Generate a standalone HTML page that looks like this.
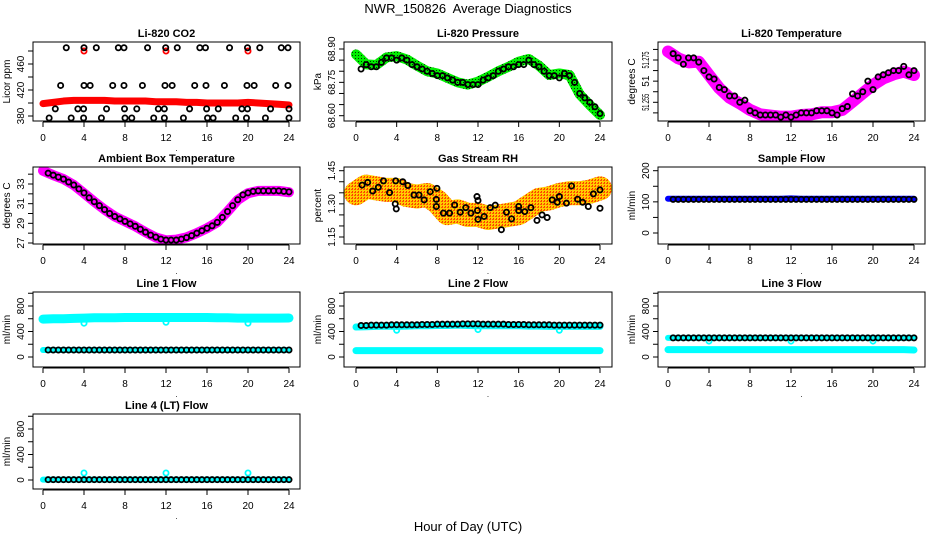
<!DOCTYPE html>
<html><head><meta charset="utf-8"><style>
html,body{margin:0;padding:0;background:#fff;}
svg{display:block;font-family:"Liberation Sans",Arial,sans-serif;}
</style></head><body>
<svg id="chart" width="936" height="540" viewBox="0 0 936 540" xmlns="http://www.w3.org/2000/svg">
<defs>
<pattern id="greenPat" width="3" height="3" patternUnits="userSpaceOnUse"><rect width="3" height="3" fill="#00ee00"/><rect x="1" y="1" width="1" height="1" fill="#003300"/></pattern>
<pattern id="rhPat" width="3" height="3" patternUnits="userSpaceOnUse"><rect width="3" height="3" fill="#ffcc00"/><rect x="0" y="0" width="2" height="1" fill="#ff5500"/><rect x="1" y="2" width="1" height="1" fill="#ff3300"/></pattern>
</defs>
<text x="468" y="13" font-size="13" text-anchor="middle" style="white-space:pre">NWR_150826  Average Diagnostics</text>
<text x="468" y="531" font-size="13" text-anchor="middle">Hour of Day (UTC)</text>
</svg>
<script>
// ---- shared categories ----
const hoursBand = [0,1,2,3,4,5,6,7,8,9,10,11,12,13,14,15,16,17,18,19,20,21,22,23,24];
const hoursHalf = [0.5,1,1.5,2,2.5,3,3.5,4,4.5,5,5.5,6,6.5,7,7.5,8,8.5,9,9.5,10,10.5,11,11.5,12,12.5,13,13.5,14,14.5,15,15.5,16,16.5,17,17.5,18,18.5,19,19.5,20,20.5,21,21.5,22,22.5,23,23.5,24];
const xTicks = [0,4,8,12,16,20,24];

// ---- CO2 ----
const co2Band = [399,401,403,404,404,404,404,403,403,403,403,402,402,402,401,401,400,400,400,400,401,400,399,398,397];
const co2BlackHours = [2.27,4.0,5.2,7.35,7.9,10.2,11.97,13.1,15.3,15.85,18.2,19.95,21.15,23.25,23.9, 1.72,4.0,4.6,6.8,7.9,9.7,11.9,12.6,14.8,15.9,17.7,19.9,20.6,22.7,23.9, 1.2,3.4,3.96,6.2,7.95,9.15,11.25,11.84,14.3,15.96,17.1,19.4,19.95,22.2,24, 0.6,2.75,3.96,5.7,8.0,8.66,10.8,11.84,13.7,16.05,16.6,18.8,19.85,21.7,24];
const co2BlackVals = [485,485,485,485,485,485,485,485,485,485,485,485,485,485,485, 427,427,427,427,427,427,427,427,427,427,427,427,427,427,427, 391,391,391,391,391,391,391,391,391,391,391,391,391,391,391, 377,377,377,377,377,377,377,377,377,377,377,377,377,377,377];
const co2RedHours = [4,12,20];
const co2RedVals = [480,480,480];

// ---- Pressure ----
const presBand = [68.876,68.831,68.828,68.862,68.868,68.853,68.825,68.80,68.79,68.77,68.75,68.74,68.753,68.775,68.80,68.82,68.843,68.855,68.825,68.783,68.79,68.783,68.696,68.648,68.603];
const presBlack = [68.81,68.83,68.82,68.82,68.84,68.86,68.86,68.85,68.86,68.85,68.83,68.82,68.81,68.80,68.79,68.78,68.78,68.77,68.76,68.75,68.75,68.74,68.74,68.74,68.76,68.77,68.78,68.80,68.81,68.82,68.82,68.83,68.83,68.85,68.83,68.82,68.80,68.78,68.78,68.77,68.79,68.78,68.75,68.70,68.68,68.66,68.64,68.61];

// ---- Li-820 Temperature ----
const tempBand = [51.279,51.2758,51.2739,51.2742,51.2679,51.2617,51.2572,51.2545,51.2514,51.2493,51.2487,51.2482,51.2482,51.249,51.2493,51.2503,51.2503,51.2514,51.2553,51.2593,51.2632,51.2663,51.2682,51.2695,51.2679];
const tempBlack = [51.278,51.276,51.273,51.276,51.276,51.274,51.27,51.267,51.266,51.262,51.261,51.258,51.258,51.255,51.256,51.251,51.250,51.249,51.249,51.249,51.249,51.248,51.249,51.248,51.249,51.250,51.250,51.250,51.251,51.251,51.251,51.250,51.249,51.252,51.253,51.259,51.258,51.260,51.265,51.261,51.267,51.268,51.269,51.27,51.27,51.272,51.268,51.27];

// ---- Ambient ----
const ambBand = [34.35,33.9,33.5,32.9,32.06,31.2,30.4,29.7,29.2,28.7,28.1,27.57,27.27,27.34,27.57,28.0,28.5,29.1,30.2,31.38,32.06,32.3,32.3,32.3,32.16];
const ambBlack = [34.1,33.9,33.7,33.5,33.2,32.9,32.5,32.1,31.6,31.2,30.8,30.4,30.0,29.7,29.45,29.2,28.95,28.7,28.4,28.1,27.8,27.6,27.4,27.3,27.3,27.3,27.4,27.55,27.75,28.0,28.25,28.5,28.75,29.1,29.6,30.2,30.8,31.4,31.9,32.1,32.25,32.3,32.3,32.3,32.3,32.3,32.25,32.2];

// ---- RH ----
const rhBand = [1.348,1.378,1.37,1.363,1.363,1.34,1.333,1.34,1.31,1.258,1.266,1.25,1.25,1.236,1.243,1.25,1.258,1.288,1.318,1.325,1.34,1.348,1.348,1.355,1.37];
const rhBlackHours = [0.6,1.15,1.64,2.2,2.7,3.3,3.86,3.96,3.9,4.6,5.1,5.7,6.2,6.7,7.3,7.9,7.96,7.9,8.6,9.2,9.7,10.25,10.8,11.3,11.9,12.0,11.95,12,12.6,13.2,13.7,14.3,14.8,15.3,16,16,16.6,17.2,17.8,18.3,18.8,19.3,19.8,20,20.7,21.2,21.8,22.3,22.85,23.35,24,24];
const rhBlackVals = [1.385,1.397,1.358,1.375,1.404,1.351,1.30,1.277,1.404,1.40,1.383,1.34,1.34,1.318,1.355,1.32,1.37,1.288,1.258,1.258,1.295,1.262,1.283,1.258,1.333,1.315,1.27,1.23,1.243,1.283,1.294,1.183,1.262,1.232,1.288,1.27,1.265,1.283,1.225,1.25,1.238,1.318,1.307,1.333,1.303,1.381,1.321,1.307,1.288,1.345,1.363,1.28];

// ---- Sample flow ----
const sampleBand = [110,110,110,110,110,110,110,110,110,110,110,110,111,110,110,110,110,110,110,110,110,110,110,110,110];
const sampleBlack = [108,108,108,108,108,108,108,108,108,108,108,108,108,108,108,108,108,108,108,108,108,108,108,108,108,108,108,108,108,108,108,108,108,108,108,108,108,108,108,108,108,108,108,108,108,108,108,108];

// ---- Line flows ----
const dipHours = [4,12,20];
const line1CyanHigh = [595,600,600,605,610,615,615,615,620,620,620,620,620,620,620,620,620,615,615,610,610,610,610,610,612];
const line1CyanLow = [110,110,110,110,110,110,110,110,110,110,110,110,110,110,110,110,110,110,110,110,110,110,110,110,110];
const line1Dips = [530,545,530];
const line1Black = [110,110,110,110,110,110,110,110,110,110,110,110,110,110,110,110,110,110,110,110,110,110,110,110,110,110,110,110,110,110,110,110,110,110,110,110,110,110,110,110,110,110,110,110,110,110,110,110];
const line2CyanHigh = [470,475,480,485,480,485,490,490,495,495,500,495,490,490,490,490,490,485,485,480,480,480,480,480,480];
const line2CyanLow = [100,100,100,100,100,100,100,100,100,100,100,100,100,100,100,100,100,100,100,100,100,100,100,100,100];
const line2Dips = [420,430,420];
const line2Black = [495,495,500,500,500,500,505,505,505,505,505,505,510,510,510,515,515,515,515,515,520,520,520,520,515,515,515,515,515,510,510,510,510,505,505,505,505,505,500,500,500,500,500,500,500,500,500,500];
const line3CyanHigh = [300,300,300,300,300,300,300,300,300,300,300,300,300,300,300,300,300,300,300,300,300,300,300,300,300];
const line3CyanLow = [115,115,115,115,115,115,115,115,115,115,115,115,115,115,115,115,115,115,115,115,115,115,115,115,110];
const line3Dips = [250,250,250];
const line3Black = [300,300,300,300,300,300,300,300,300,300,300,300,300,300,300,300,300,300,300,300,300,300,300,300,300,300,300,300,300,300,300,300,300,300,300,300,300,300,300,300,300,300,300,300,300,300,300,300];
const line4CyanLow = [5,5,5,5,5,5,5,5,5,5,5,5,5,5,5,5,5,5,5,5,5,5,5,5,5];
const line4Spikes = [110,110,110];
const line4Black = [5,5,5,5,5,5,5,5,5,5,5,5,5,5,5,5,5,5,5,5,5,5,5,5,5,5,5,5,5,5,5,5,5,5,5,5,5,5,5,5,5,5,5,5,5,5,5,5];

const NS = "http://www.w3.org/2000/svg";
const svg = document.getElementById('chart');
const cols = [{L:33,R:300,x0:43,x24:289},{L:344,R:612,x0:356,x24:600},{L:658,R:925,x0:668,x24:914}];
const rows = [{T:42,B:121},{T:167,B:244},{T:292,B:367},{T:414,B:489}];

function mk(tag, attrs, parent){
  const e = document.createElementNS(NS, tag);
  for (const k in attrs) e.setAttribute(k, attrs[k]);
  (parent||svg).appendChild(e);
  return e;
}

function panel(name, ci, ri, title, ylab, v1, p1, v2, p2, ticks, labVals, labTxt, labLen){
  const c = cols[ci], r = rows[ri];
  const g = mk('g', {});
  
  
  const sx = h => c.x0 + (c.x24 - c.x0) * h / 24;
  const sy = v => p1 + (p2 - p1) * (v - v1) / (v2 - v1);
  const cp = mk('clipPath', {id: 'clip-' + name}, g);
  mk('rect', {x: c.L, y: r.T, width: c.R - c.L, height: r.B - r.T}, cp);
  const plot = mk('g', {'clip-path': 'url(#clip-' + name + ')'}, g);
  
  
  const box = mk('rect', {x: c.L, y: r.T, width: c.R - c.L, height: r.B - r.T, fill: 'none', stroke: '#000', 'stroke-width': 1}, g);
  
  
  const t = mk('text', {x: (c.L + c.R) / 2, y: r.T - 5, 'font-size': 11, 'font-weight': 'bold', 'text-anchor': 'middle'}, g);
  t.textContent = title;
  
  
  const xa = mk('g', {}, g);
  
  
  mk('line', {x1: sx(0), x2: sx(24), y1: r.B + 1, y2: r.B + 1, stroke: '#000'}, xa);
  xTicks.forEach(h => {
    mk('line', {x1: sx(h), x2: sx(h), y1: r.B + 1, y2: r.B + 6, stroke: '#000'}, xa);
    const tl = mk('text', {x: sx(h), y: r.B + 20, 'font-size': 10, 'text-anchor': 'middle'}, xa);
    tl.textContent = h;
    
    
  });
  const dot = mk('text', {x: (c.L + c.R) / 2 + 10, y: r.B + 30, 'font-size': 8, 'text-anchor': 'middle'}, xa);
  dot.textContent = '.';
  const ya = mk('g', {}, g);
  
  
  mk('line', {x1: c.L, x2: c.L, y1: sy(ticks[0]), y2: sy(ticks[ticks.length - 1]), stroke: '#000'}, ya);
  ticks.forEach(v => mk('line', {x1: c.L - 5, x2: c.L, y1: sy(v), y2: sy(v), stroke: '#000'}, ya));
  labVals.forEach((v, i) => {
    const yy = sy(v), xx = c.L - 9;
    const at = {x: xx, y: yy, 'font-size': 10, 'text-anchor': 'middle', transform: 'rotate(-90 ' + xx + ' ' + yy + ')'};
    if (labLen && labTxt[i].length > 3) { at.textLength = labLen; at.lengthAdjust = 'spacingAndGlyphs'; }
    const tl = mk('text', at, ya);
    tl.textContent = labTxt[i];
    
    
  });
  const yt = mk('text', {x: c.L - 23, y: (r.T + r.B) / 2, 'font-size': 10, 'text-anchor': 'middle', transform: 'rotate(-90 ' + (c.L - 23) + ' ' + ((r.T + r.B) / 2) + ')'}, ya);
  yt.textContent = ylab;
  
  
  return {sx, sy, plot};
}

function band(p, hrs, vals, color, w, nm){
  const pts = hrs.map((h, i) => p.sx(h) + ',' + p.sy(vals[i])).join(' ');
  const pl = mk('polyline', {points: pts, fill: 'none', stroke: color, 'stroke-width': w, 'stroke-linejoin': 'round', 'stroke-linecap': 'round'}, p.plot);
  
  
}
function circles(p, hrs, vals, color, nm){
  const g = mk('g', {}, p.plot);
  
  
  hrs.forEach((h, i) => {
    const c = mk('circle', {cx: p.sx(h), cy: p.sy(vals[i]), r: 2.6, fill: 'none', stroke: color, 'stroke-width': 1.8}, g);
    
    
  });
}

let p = panel('co2', 0, 0, 'Li-820 CO2', 'Licor ppm', 380, 116, 460, 64, [380,400,420,440,460,480], [380,420,460], ['380','420','460']);
band(p, hoursBand, co2Band, '#ff0000', 7, 'co2-band');
circles(p, co2RedHours, co2RedVals, '#ff0000', 'co2-red-outliers');
circles(p, co2BlackHours, co2BlackVals, '#000', 'co2-black-points');

p = panel('pressure', 1, 0, 'Li-820 Pressure', 'kPa', 68.60, 115.7, 68.90, 49, [68.60,68.65,68.70,68.75,68.80,68.85,68.90], [68.60,68.75,68.90], ['68.60','68.75','68.90']);
band(p, hoursBand, presBand, 'url(#greenPat)', 10, 'pressure-band');
circles(p, hoursHalf, presBlack, '#000', 'pressure-black-points');

p = panel('li820-temp', 2, 0, 'Li-820 Temperature', 'degrees C', 51.255, 102.3, 51.275, 60, [51.25,51.255,51.26,51.265,51.27,51.275,51.28], [51.255,51.265,51.275], ['51.255','51','51.275'], 17);
band(p, hoursBand, tempBand, '#ff00ff', 12, 'li820-temp-band');
circles(p, hoursHalf, tempBlack, '#000', 'li820-temp-black-points');

p = panel('ambient', 0, 1, 'Ambient Box Temperature', 'degrees C', 27, 243, 33, 184, [27,28,29,30,31,32,33,34], [27,29,31,33], ['27','29','31','33']);
band(p, hoursBand, ambBand, '#ff00ff', 10, 'ambient-band');
circles(p, hoursHalf, ambBlack, '#000', 'ambient-black-points');

p = panel('rh', 1, 1, 'Gas Stream RH', 'percent', 1.15, 237, 1.45, 170.7, [1.15,1.20,1.25,1.30,1.35,1.40,1.45], [1.15,1.30,1.45], ['1.15','1.30','1.45']);
band(p, hoursBand, rhBand, 'url(#rhPat)', 24, 'rh-band');
circles(p, rhBlackHours, rhBlackVals, '#000', 'rh-black-points');

p = panel('sample-flow', 2, 1, 'Sample Flow', 'ml/min', 0, 233, 200, 170.7, [0,50,100,150,200], [0,100,200], ['0','100','200']);
band(p, hoursBand, sampleBand, '#0000ff', 6, 'sample-flow-band');
circles(p, hoursHalf, sampleBlack, '#000', 'sample-flow-black-points');

const flowTicks = [0,200,400,600,800,1000];
p = panel('line1-flow', 0, 2, 'Line 1 Flow', 'ml/min', 0, 357, 800, 306, flowTicks, [0,400,800], ['0','400','800']);
band(p, hoursBand, line1CyanHigh, '#00ffff', 9, 'line1-cyan-high');
band(p, hoursBand, line1CyanLow, '#00ffff', 6, 'line1-cyan-low');
circles(p, dipHours, line1Dips, '#00ffff', 'line1-cyan-dips');
circles(p, hoursHalf, line1Black, '#000', 'line1-black-points');

p = panel('line2-flow', 1, 2, 'Line 2 Flow', 'ml/min', 0, 357, 800, 306, flowTicks, [0,400,800], ['0','400','800']);
band(p, hoursBand, line2CyanHigh, '#00ffff', 7, 'line2-cyan-high');
band(p, hoursBand, line2CyanLow, '#00ffff', 7, 'line2-cyan-low');
circles(p, dipHours, line2Dips, '#00ffff', 'line2-cyan-dips');
circles(p, hoursHalf, line2Black, '#000', 'line2-black-points');

p = panel('line3-flow', 2, 2, 'Line 3 Flow', 'ml/min', 0, 357, 800, 306, flowTicks, [0,400,800], ['0','400','800']);
band(p, hoursBand, line3CyanHigh, '#00ffff', 6, 'line3-cyan-high');
band(p, hoursBand, line3CyanLow, '#00ffff', 7, 'line3-cyan-low');
circles(p, dipHours, line3Dips, '#00ffff', 'line3-cyan-dips');
circles(p, hoursHalf, line3Black, '#000', 'line3-black-points');

p = panel('line4-flow', 0, 3, 'Line 4 (LT) Flow', 'ml/min', 0, 480, 800, 429, flowTicks, [0,400,800], ['0','400','800']);
band(p, hoursBand, line4CyanLow, '#00ffff', 6, 'line4-cyan-low');
circles(p, dipHours, line4Spikes, '#00ffff', 'line4-cyan-spikes');
circles(p, hoursHalf, line4Black, '#000', 'line4-black-points');
</script>
</body></html>
